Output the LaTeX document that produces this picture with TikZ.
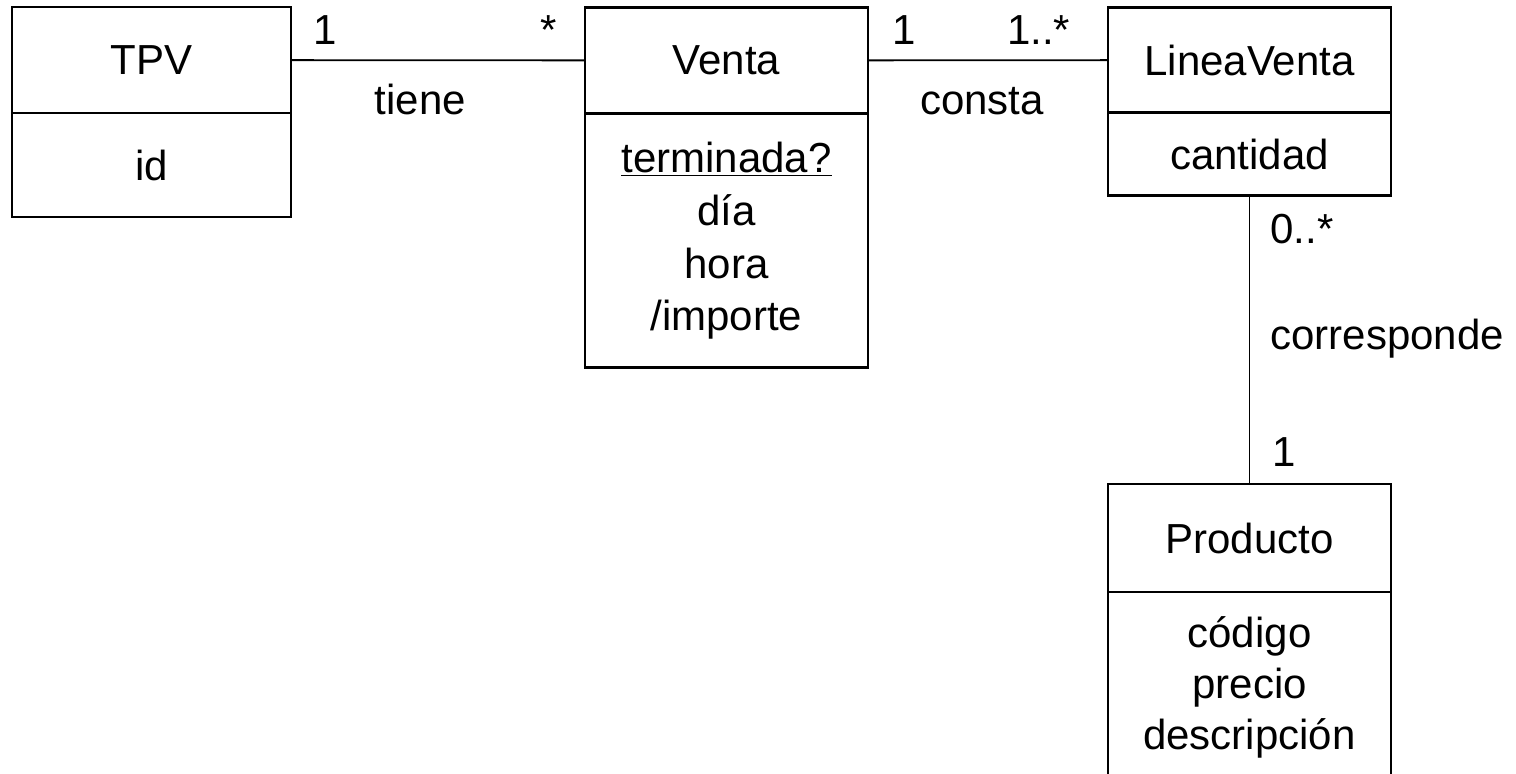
\documentclass[tikz,border=0pt]{standalone}
\usepackage{fontspec}
\setmainfont{Liberation Sans}
\usetikzlibrary{positioning}

\tikzset{
	clase/.style = {draw, line width=1.1pt, minimum width=141.5pt, inner sep=0pt, outer sep=0pt, align=center, font=\fontsize{21}{25.5}\selectfont},
	rel/.style = {line width=0.9pt},
	etiq/.style = {inner sep=0pt, font=\fontsize{21}{25}\selectfont}
}

\begin{document}
\begin{tikzpicture}[x=0.5pt, y=-0.5pt]
	\useasboundingbox (0,0) rectangle (1516,773);

	% clases
	\node [clase, minimum width=139.5pt, minimum height=53pt] (tpv) at (151.5,60) {TPV};
	\node [clase, minimum width=139.5pt, minimum height=52pt, below=0pt of tpv] (tpvatr) {id};

	\node [clase, minimum height=53pt] (venta) at (726.5,60.5) {Venta};
	\node [clase, minimum height=127pt, below=0pt of venta, font=\fontsize{21}{26.4}\selectfont, text depth=4pt] (ventaatr) {\underline{terminada?}\\ día\\ hora\\ /importe};

	\node [clase, minimum height=52.5pt] (linea) at (1249.5,60) {LineaVenta};
	\node [clase, minimum height=41.5pt, below=0pt of linea] (lineaatr) {cantidad};

	\node [clase, minimum height=54pt] (prod) at (1249.5,538) {Producto};
	\node [clase, minimum height=95pt, below=0pt of prod] (prodatr) {código\\ precio\\ descripción};

	% asociaciones
	\draw [rel] (tpv) -- (venta)
		node [etiq, pos=0, anchor=base west, xshift=11pt, yshift=8pt] {1}
		node [etiq, pos=1, anchor=base east, xshift=-13.5pt, yshift=8pt] {*}
		node [etiq, pos=0.44, anchor=base, yshift=-27pt] {tiene};
	\draw [rel] (venta) -- (linea)
		node [etiq, pos=0, anchor=base west, xshift=12pt, yshift=8pt] {1}
		node [etiq, pos=1, anchor=base east, xshift=-18.5pt, yshift=8pt] {1..*}
		node [etiq, pos=0.475, anchor=base, yshift=-27pt] {consta};
	\draw [rel] (lineaatr) -- (prod)
		node [etiq, pos=0, anchor=base west, xshift=10pt, yshift=-24pt] {0..*}
		node [etiq, midway, anchor=base west, xshift=10pt, yshift=-5pt] {corresponde}
		node [etiq, pos=1, anchor=base west, xshift=11pt, yshift=9pt] {1};
\end{tikzpicture}
\end{document}
